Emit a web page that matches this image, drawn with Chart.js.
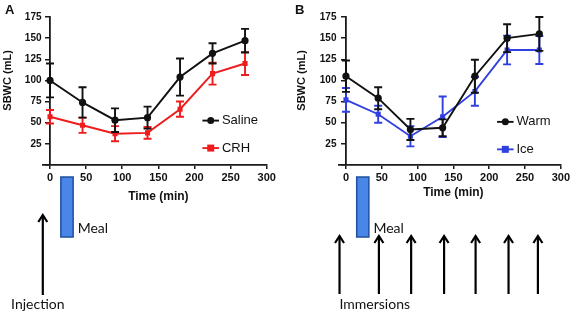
<!DOCTYPE html>
<html><head><meta charset="utf-8">
<script src="https://cdn.jsdelivr.net/npm/chart.js@4.4.1/dist/chart.umd.min.js"></script>
<style>
html,body{margin:0;padding:0;background:#fff;}
#wrap{position:relative;width:572px;height:312px;overflow:hidden;}
.pane{position:absolute;top:0;width:286px;height:312px;}
canvas{display:block;}
</style></head><body>
<div id="wrap">
<div class="pane" style="left:0"><canvas id="cA" width="286" height="312"></canvas></div>
<div class="pane" style="left:286px"><canvas id="cB" width="286" height="312"></canvas></div>
</div>
<script>
// ---- data ----
const times = [0, 45, 90, 135, 180, 225, 270];
const salineMean = [100, 74, 53, 56, 104, 132, 147];
const salineErr  = [20, 18, 14, 13, 22, 12, 14];
const crhMean    = [57, 47, 37, 38, 66, 108, 120];
const crhErr     = [8, 9, 9, 7, 9, 13, 13.5];
const warmMean   = [105, 79, 42, 44, 105, 150, 155];
const warmErr    = [18.5, 13, 12.5, 10, 19.5, 16.5, 20];
const iceMean    = [77, 60, 34, 57, 87, 136, 136];
const iceErr     = [14, 10, 12, 24, 17, 17, 16.5];
const xTicks = [0, 50, 100, 150, 200, 250, 300];
const yTicks = [0, 25, 50, 75, 100, 125, 150, 175];
const mealWindow = [15, 32];
const injectionTimes = [-10];
const immersionTimes = [-9, 46, 91, 137, 181, 227, 268];

const SANS = '"Liberation Sans", Arial, sans-serif';
const LABEL = 'Lato, "Open Sans", sans-serif';
const AX = '#1a1a1a';

function pts(means){ return times.map((t,i)=>({x:t, y:means[i]})); }

const errorAndAnnot = {
  id: 'errorAndAnnot',
  beforeDatasetDraw(chart, args) {
    const ds = chart.data.datasets[args.index];
    const xs = chart.scales.x, ys = chart.scales.y, ctx = chart.ctx;
    ctx.save();
    ctx.strokeStyle = ds.borderColor; ctx.lineWidth = 1.9;
    ds.data.forEach((p, i) => {
      const e = ds.errors[i];
      const px = xs.getPixelForValue(p.x);
      const t = ys.getPixelForValue(p.y + e), b = ys.getPixelForValue(p.y - e);
      ctx.beginPath();
      ctx.moveTo(px, t); ctx.lineTo(px, b);
      ctx.moveTo(px - 4, t); ctx.lineTo(px + 4, t);
      ctx.moveTo(px - 4, b); ctx.lineTo(px + 4, b);
      ctx.stroke();
    });
    ctx.restore();
  },
  afterDraw(chart) {
    const o = chart.options.plugins.errorAndAnnot;
    const xs = chart.scales.x, ys = chart.scales.y, ctx = chart.ctx;
    const base = chart.chartArea.bottom;
    const axisX = xs.getPixelForValue(0);
    ctx.save();
    ctx.fillStyle = '#111';
    // panel letter
    ctx.font = 'bold 13px ' + SANS; ctx.textAlign = 'left'; ctx.textBaseline = 'top';
    ctx.fillText(o.letter, o.letterX, 4);
    // y tick labels (placed from the y scale)
    ctx.font = 'bold 10px ' + SANS; ctx.textAlign = 'right'; ctx.textBaseline = 'middle';
    ys.ticks.forEach(t => {
      if (t.value === 0) return;
      ctx.fillText(String(t.value), axisX - o.yLabelGap, ys.getPixelForValue(t.value));
    });
    // y title
    ctx.save();
    ctx.translate(axisX - o.yTitleDx, ys.getPixelForValue(100));
    ctx.rotate(-Math.PI / 2);
    ctx.font = 'bold 11px ' + SANS; ctx.textAlign = 'center'; ctx.textBaseline = 'middle';
    ctx.fillText('SBWC (mL)', 0, 0);
    ctx.restore();
    // x title
    ctx.font = 'bold 12px ' + SANS; ctx.textAlign = 'center'; ctx.textBaseline = 'middle';
    ctx.fillText('Time (min)', xs.getPixelForValue(150), base + o.xTitleDy);
    // legend
    chart.data.datasets.forEach((ds, i) => {
      const y = ys.getPixelForValue(o.legendY[i]);
      const x1 = xs.getPixelForValue(211), x2 = xs.getPixelForValue(234);
      ctx.strokeStyle = ds.borderColor; ctx.fillStyle = ds.borderColor; ctx.lineWidth = 1.9;
      ctx.beginPath(); ctx.moveTo(x1, y); ctx.lineTo(x2, y); ctx.stroke();
      const cx = (x1 + x2) / 2;
      if (ds.pointStyle === 'rect') { ctx.fillRect(cx - 3.5, y - 3.5, 7, 7); }
      else { ctx.beginPath(); ctx.arc(cx, y, 3.5, 0, Math.PI * 2); ctx.fill(); }
      ctx.fillStyle = '#111'; ctx.font = '13px ' + SANS; ctx.textAlign = 'left'; ctx.textBaseline = 'middle';
      ctx.fillText(ds.label, xs.getPixelForValue(238), y);
    });
    // meal box
    const mx1 = xs.getPixelForValue(mealWindow[0]), mx2 = xs.getPixelForValue(mealWindow[1]);
    ctx.fillStyle = '#4a86e8'; ctx.strokeStyle = '#1f4f9e'; ctx.lineWidth = 1.5;
    ctx.fillRect(mx1, base + 12, mx2 - mx1, 60);
    ctx.strokeRect(mx1, base + 12, mx2 - mx1, 60);
    ctx.fillStyle = '#111'; ctx.font = '14px ' + LABEL; ctx.textAlign = 'left'; ctx.textBaseline = 'middle';
    ctx.fillText('Meal', mx2 + 4.5, base + 63);
    // arrows
    ctx.strokeStyle = '#000'; ctx.fillStyle = '#000'; ctx.lineWidth = 2.2;
    o.arrows.forEach(t => {
      const ax = xs.getPixelForValue(t);
      const tip = base + o.arrowTop, bot = base + o.arrowBottom;
      ctx.beginPath(); ctx.moveTo(ax, tip + 2); ctx.lineTo(ax, bot); ctx.stroke();
      ctx.beginPath(); ctx.moveTo(ax - 4.5, tip + 7); ctx.lineTo(ax, tip); ctx.lineTo(ax + 4.5, tip + 7); ctx.stroke();
    });
    ctx.fillStyle = '#111'; ctx.font = '14px ' + LABEL; ctx.textBaseline = 'middle';
    const fx = xs.getPixelForValue(o.arrows[0]);
    ctx.textAlign = o.arrowTextAlign;
    ctx.fillText(o.arrowText, fx + o.arrowTextDx, base + 139);
    ctx.restore();
  }
};

function makeChart(id, sets, opt) {
  const axisCommon = {
    type: 'linear',
    grid: { display: true, drawOnChartArea: false, drawTicks: true, tickLength: 4, color: AX, lineWidth: 1.5 },
    border: { display: true, color: AX, width: 1.8 },
    ticks: { color: '#111', font: { family: SANS, weight: 'bold', size: 11 }, padding: 2, maxRotation: 0, includeBounds: false }
  };
  return new Chart(document.getElementById(id), {
    type: 'line',
    data: { datasets: sets },
    options: {
      responsive: false, animation: false, devicePixelRatio: 1,
      layout: { padding: { left: opt.padLeft, right: opt.padRight, top: 17, bottom: 107 } },
      plugins: { legend: { display: false }, tooltip: { enabled: false }, errorAndAnnot: opt },
      scales: {
        x: Object.assign({}, axisCommon, {
          min: -10, max: 300,
          afterBuildTicks: s => { s.ticks = xTicks.map(v => ({ value: v })); },
          afterFit: s => { s.height = 40; }
        }),
        y: Object.assign({}, axisCommon, {
          min: 0, max: 175, position: { x: 0 },
          afterBuildTicks: s => { s.ticks = yTicks.map(v => ({ value: v })); },
          ticks: Object.assign({}, axisCommon.ticks, { display: false })
        })
      }
    },
    plugins: [errorAndAnnot]
  });
}

function series(label, means, errs, color, style) {
  return { label, data: pts(means), errors: errs, borderColor: color, backgroundColor: color,
    borderWidth: 1.9, pointStyle: style, pointRadius: 3.6, pointBorderWidth: 0, tension: 0, fill: false };
}

makeChart('cA', [
  series('Saline', salineMean, salineErr, '#111111', 'circle'),
  series('CRH', crhMean, crhErr, '#ee1c1c', 'rect')
], { padLeft: 42.8, padRight: 19.3, letter: 'A', letterX: 5, yTitleDx: 42, xTitleDy: 32, yLabelGap: 8.5,
     legendY: [52.5, 20], arrows: injectionTimes, arrowTop: 50, arrowBottom: 130,
     arrowText: 'Injection', arrowTextAlign: 'center', arrowTextDx: -5 });

makeChart('cB', [
  series('Warm', warmMean, warmErr, '#111111', 'circle'),
  series('Ice', iceMean, iceErr, '#2f3fe0', 'rect')
], { padLeft: 52.8, padRight: 9.3, letter: 'B', letterX: 9, yTitleDx: 43.5, xTitleDy: 27.5, yLabelGap: 9.5,
     legendY: [51, 18.5], arrows: immersionTimes, arrowTop: 71, arrowBottom: 129,
     arrowText: 'Immersions', arrowTextAlign: 'left', arrowTextDx: 0 });
</script>
</body></html>
